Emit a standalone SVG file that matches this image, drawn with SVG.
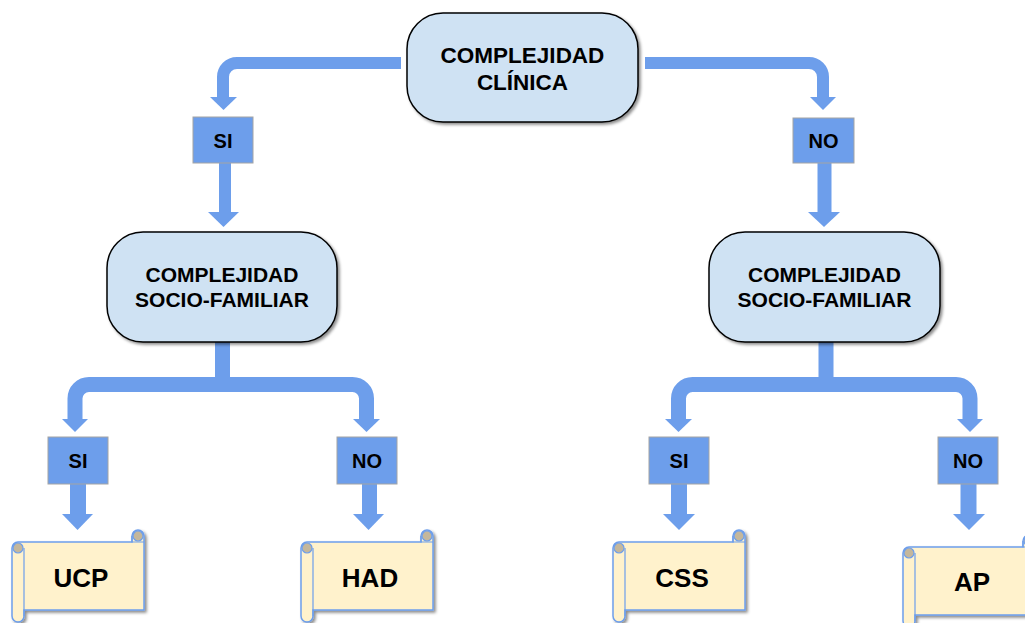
<svg xmlns="http://www.w3.org/2000/svg" width="1025" height="623" viewBox="0 0 1025 623">
<style>
.node{fill:#cfe2f3;stroke:#000;stroke-width:1.5;filter:url(#sh)}
.lbl{fill:#6d9eeb;stroke:#a4a4a4;stroke-width:1}
.flow{fill:none;stroke:#6d9eeb;stroke-linejoin:round}
.head{fill:#6d9eeb}
.t{font-family:"Liberation Sans",Arial,sans-serif;font-weight:bold;fill:#000;text-anchor:middle}
.scroll{fill:#fff2cc;stroke:#6d9eeb;stroke-width:1.5}
.curl{fill:#c4b79c;stroke:#6d9eeb;stroke-width:1.2}
</style>
<defs>
<filter id="sh" x="-10%" y="-10%" width="125%" height="130%">
<feDropShadow dx="2" dy="2" stdDeviation="1.5" flood-color="#000" flood-opacity="0.45"/>
</filter>
<g id="scrollShape">
<path class="scroll" style="filter:url(#sh)" d="M6,12 H120 V6 A6,6 0 0 1 132,6 V80 H12 V86 A6,6 0 0 1 0,86 V18 A6,6 0 0 1 6,12 Z"/>
<path fill="none" stroke="#6d9eeb" stroke-width="1.2" d="M12,18 V86 M120,6 V12 H132"/>
<circle class="curl" cx="6" cy="18" r="5"/>
<circle class="curl" cx="126" cy="6" r="5"/>
</g>
</defs>
<rect width="1025" height="623" fill="#fff"/>

<g id="connectors">
<path class="flow" stroke-width="12" d="M401,63 H237 A14,14 0 0 0 223,77 V98"/>
<polygon class="head" points="210,97 237,97 223.5,110"/>
<path class="flow" stroke-width="12" d="M225,163 V213"/>
<polygon class="head" points="208,212 239,212 223.5,227"/>
<path class="flow" stroke-width="12" d="M645,63 H809 A14,14 0 0 1 823,77 V98"/>
<polygon class="head" points="810,97 836,97 823,110"/>
<path class="flow" stroke-width="14" d="M824.5,163 V213"/>
<polygon class="head" points="808,212 840,212 824,227"/>

<path class="flow" stroke-width="15" d="M222.5,342 V384.5 M75,420 V398.5 A14,14 0 0 1 89,384.5 H352.5 A14,14 0 0 1 366.5,398.5 V420"/>
<polygon class="head" points="62,419 88,419 75,432"/>
<polygon class="head" points="353,419 380,419 366.5,432"/>
<path class="flow" stroke-width="16" d="M78,484 V515"/>
<polygon class="head" points="62,514 93,514 77.5,530"/>
<path class="flow" stroke-width="15" d="M369.5,484 V515"/>
<polygon class="head" points="353,514 384,514 368.5,530"/>

<path class="flow" stroke-width="15" d="M826,342 V384.5 M678.5,420 V398.5 A14,14 0 0 1 692.5,384.5 H956 A14,14 0 0 1 970,398.5 V420"/>
<polygon class="head" points="665,419 692,419 678.5,432"/>
<polygon class="head" points="957,419 983,419 970,432"/>
<path class="flow" stroke-width="16" d="M679,484 V515"/>
<polygon class="head" points="663,514 695,514 679,530"/>
<path class="flow" stroke-width="16" d="M968.5,484 V515"/>
<polygon class="head" points="953,514 985,514 969,530"/>
</g>

<g id="n-clinica">
<rect class="node" x="407" y="13" width="231" height="109" rx="36"/>
<text class="t" x="522.5" y="63" font-size="22.5">COMPLEJIDAD</text>
<text class="t" x="522.5" y="90" font-size="22.5">CLÍNICA</text>
</g>

<g id="l-si-top"><rect class="lbl" x="193" y="117" width="60" height="46"/><text class="t" x="223" y="148" font-size="20">SI</text></g>
<g id="l-no-top"><rect class="lbl" x="793" y="118" width="61" height="45"/><text class="t" x="823.5" y="148" font-size="20">NO</text></g>

<g id="n-socio-left">
<rect class="node" x="107" y="232" width="230" height="110" rx="36"/>
<text class="t" x="222" y="282" font-size="21">COMPLEJIDAD</text>
<text class="t" x="222" y="307" font-size="21">SOCIO-FAMILIAR</text>
</g>
<g id="n-socio-right">
<rect class="node" x="709" y="232" width="231" height="110" rx="36"/>
<text class="t" x="824.5" y="282" font-size="21">COMPLEJIDAD</text>
<text class="t" x="824.5" y="307" font-size="21">SOCIO-FAMILIAR</text>
</g>

<g id="l-si-left"><rect class="lbl" x="48" y="437" width="60" height="47"/><text class="t" x="78" y="468" font-size="20">SI</text></g>
<g id="l-no-left"><rect class="lbl" x="337" y="437" width="60" height="47"/><text class="t" x="367" y="468" font-size="20">NO</text></g>
<g id="l-si-right"><rect class="lbl" x="649" y="437" width="60" height="47"/><text class="t" x="679" y="468" font-size="20">SI</text></g>
<g id="l-no-right"><rect class="lbl" x="938" y="437" width="60" height="47"/><text class="t" x="968" y="468" font-size="20">NO</text></g>

<g id="n-ucp"><use href="#scrollShape" transform="translate(12,530)"/><text class="t" x="81" y="587" font-size="26">UCP</text></g>
<g id="n-had"><use href="#scrollShape" transform="translate(301,530)"/><text class="t" x="370" y="587" font-size="26">HAD</text></g>
<g id="n-css"><use href="#scrollShape" transform="translate(613,530)"/><text class="t" x="682" y="587" font-size="26">CSS</text></g>
<g id="n-ap"><use href="#scrollShape" transform="translate(903,535)"/><text class="t" x="972" y="591" font-size="26">AP</text></g>
</svg>
